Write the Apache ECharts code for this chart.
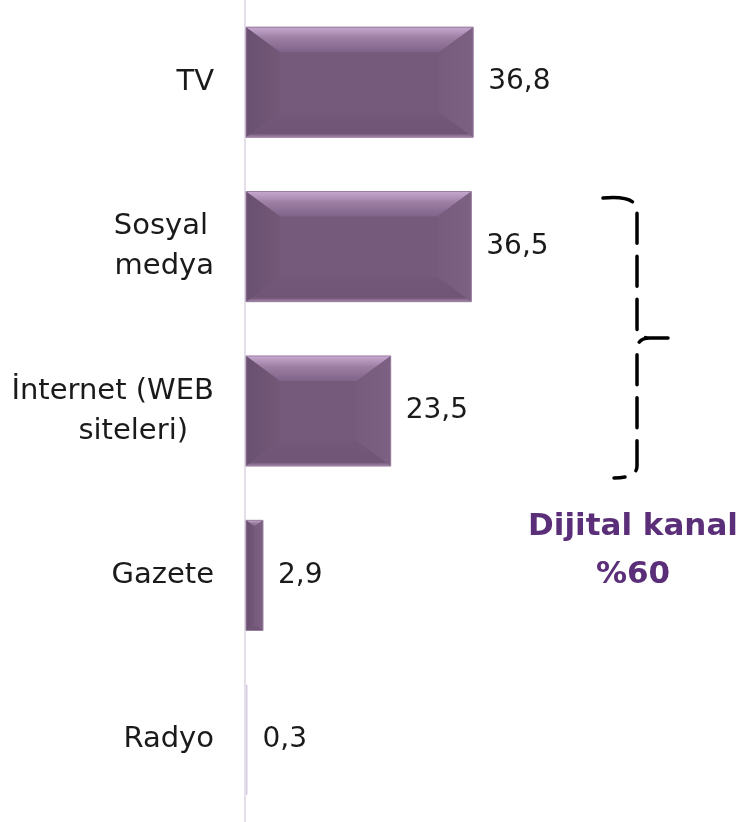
<!DOCTYPE html>
<html>
<head>
<meta charset="utf-8">
<script src="https://cdn.jsdelivr.net/npm/echarts@6/dist/echarts.min.js"></script>
<style>
  html, body { margin: 0; padding: 0; background: #ffffff; }
  #chart { width: 742px; height: 822px; }
</style>
</head>
<body>
<div id="chart"></div>
<script>
// Media channels and their shares (%)
const categories = ['TV', 'Sosyal medya', 'İnternet (WEB siteleri)', 'Gazete', 'Radyo'];
const shares = [36.8, 36.5, 23.5, 2.9, 0.3];
// Axis labels, split over lines
const categoryLabels = {
  'TV': 'TV',
  'Sosyal medya': '{s|Sosyal}\nmedya',
  'İnternet (WEB siteleri)': 'İnternet (WEB\n{b|siteleri)}',
  'Gazete': 'Gazete',
  'Radyo': 'Radyo'
};
const bracketTitle = ['Dijital kanal', '%60'];

const FONT = '"DejaVu Sans", "Noto Sans", sans-serif';
const chart = echarts.init(document.getElementById('chart'), null, { renderer: 'canvas' });

function fmt(v) { return v.toFixed(1).replace('.', ','); }
function lin(x2, y2, stops) {
  return { type: 'linear', x: 0, y: 0, x2: x2, y2: y2,
    colorStops: stops.map(function (s) { return { offset: s[0], color: s[1] }; }) };
}

// Bevelled bar: a centre face plus four sloped edges
function renderBar(params, api) {
  const v = api.value(0);
  const cat = api.value(1);
  const p0 = api.coord([0, cat]);
  const p1 = api.coord([v, cat]);
  const bandH = api.size([0, 1])[1];
  const bh = bandH * 0.67;
  const x0 = p0[0] + 1, x1 = p1[0];
  const y0 = p0[1] - bh / 2, y1 = p0[1] + bh / 2;
  const w = Math.max(x1 - x0, 1.5);
  const xr = x0 + w;
  const s = Math.min(1, w / 68);
  const bx = 34 * s, by = 25 * s;
  const children = [];
  if (w < 4) {
    children.push({ type: 'rect', shape: { x: x0, y: y0, width: w, height: bh },
      style: { fill: '#d8cce0' } });
  } else {
    children.push(
      { type: 'rect', shape: { x: x0, y: y0, width: w, height: bh }, style: { fill: '#765a7c' } },
      { type: 'polygon', shape: { points: [[x0, y0], [xr, y0], [xr - bx, y0 + by], [x0 + bx, y0 + by]] },
        style: { fill: lin(0, 1, [[0, '#c7a8d0'], [0.45, '#9c7ea2'], [1, '#80638a']]) } },
      { type: 'polygon', shape: { points: [[x0, y0], [x0 + bx, y0 + by], [x0 + bx, y1 - by], [x0, y1]] },
        style: { fill: lin(1, 0, [[0, '#6a5070'], [1, '#735878']]) } },
      { type: 'polygon', shape: { points: [[xr, y0], [xr, y1], [xr - bx, y1 - by], [xr - bx, y0 + by]] },
        style: { fill: lin(1, 0, [[0, '#785c7e'], [1, '#7d6183']]) } },
      { type: 'polygon', shape: { points: [[x0, y1], [x0 + bx, y1 - by], [xr - bx, y1 - by], [xr, y1]] },
        style: { fill: lin(0, 1, [[0, '#745879'], [0.85, '#705576'], [1, '#a58aab']]) } },
      { type: 'rect', shape: { x: x0, y: y0, width: w, height: bh },
        style: { fill: 'none', stroke: '#9a7fa0', lineWidth: 1 } }
    );
  }
  children.push({
    type: 'text',
    style: { text: fmt(v), x: xr + 15, y: p0[1], verticalAlign: 'middle', align: 'left',
      fill: '#1a1a1a', font: '28px ' + FONT }
  });
  return { type: 'group', children: children };
}

// Dashed curly bracket grouping the digital channels, with its caption
const bracketPath = 'M603,198 Q636,195 637,210 L637,328 Q637,338 650,338 L668,338 ' +
  'M668,338 L650,338 Q637,338 637,350 L637,466 Q637,478 614,478';

function renderBracket() {
  return {
    type: 'group',
    children: [
      { type: 'path', shape: { pathData: bracketPath },
        style: { fill: 'none', stroke: '#000', lineWidth: 3.5, lineDash: [30, 13], lineCap: 'round' } },
      { type: 'text', style: { text: bracketTitle[0], x: 633, y: 527, align: 'center', verticalAlign: 'middle',
        fill: '#5b2e79', font: 'bold 31px ' + FONT } },
      { type: 'text', style: { text: bracketTitle[1], x: 633, y: 575, align: 'center', verticalAlign: 'middle',
        fill: '#5b2e79', font: 'bold 31px ' + FONT } }
    ]
  };
}

const labelText = { fontSize: 29, lineHeight: 40, color: '#1a1a1a', fontFamily: FONT };

chart.setOption({
  animation: false,
  grid: { left: 245, top: -2.5, width: 496, height: 825, containLabel: false },
  xAxis: { type: 'value', min: 0, max: 80, show: false },
  yAxis: {
    type: 'category', data: categories, inverse: true,
    axisLine: { show: true, lineStyle: { color: '#e3deea', width: 2 } },
    axisTick: { show: false },
    axisLabel: Object.assign({
      margin: 31, align: 'right',
      formatter: function (v) { return categoryLabels[v]; },
      rich: {
        s: Object.assign({ padding: [0, 6, 0, 0] }, labelText),
        b: Object.assign({ padding: [0, 26, 0, 0] }, labelText)
      }
    }, labelText),
    splitLine: { show: false }
  },
  series: [{
    type: 'custom',
    renderItem: renderBar,
    encode: { x: 0, y: 1 },
    data: shares.map(function (v, i) { return [v, i]; })
  }, {
    type: 'custom',
    coordinateSystem: 'none',
    renderItem: renderBracket,
    data: [0],
    silent: true
  }]
});
</script>
</body>
</html>
